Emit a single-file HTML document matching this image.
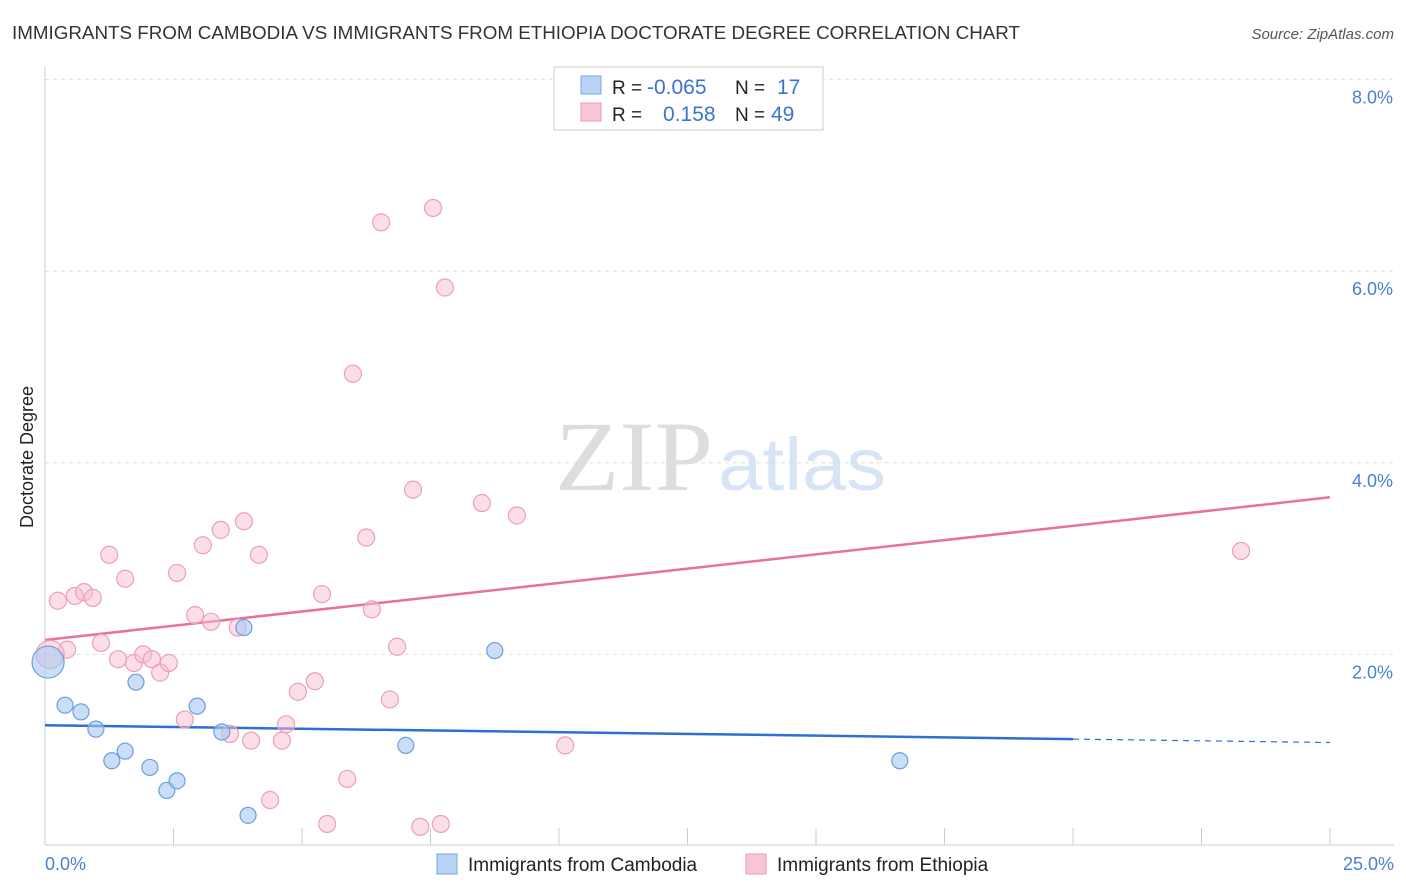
<!DOCTYPE html>
<html><head><meta charset="utf-8"><style>
body{margin:0;background:#fff;font-family:"Liberation Sans",sans-serif;}
svg{display:block}
</style></head><body>
<svg width="1406" height="892">
<text x="12" y="39" font-size="18" fill="#333" textLength="1008" lengthAdjust="spacingAndGlyphs">IMMIGRANTS FROM CAMBODIA VS IMMIGRANTS FROM ETHIOPIA DOCTORATE DEGREE CORRELATION CHART</text>
<text x="1394" y="39" font-size="15" fill="#555" text-anchor="end" font-style="italic">Source: ZipAtlas.com</text>
<g>
<text x="555" y="490" font-size="100" fill="#ddd" font-family="Liberation Serif,serif" textLength="158" lengthAdjust="spacingAndGlyphs">ZIP</text>
<text x="718" y="490" font-size="74" fill="#d6e4f5" textLength="168" lengthAdjust="spacingAndGlyphs">atlas</text>
</g>
<g id="grid"></g>
<g id="axes"></g>
<text transform="translate(33,457) rotate(-90)" font-size="18" fill="#222" text-anchor="middle">Doctorate Degree</text>
<text x="45" y="870" font-size="18" fill="#4a7fd4">0.0%</text>
<text x="1394" y="870" font-size="18" fill="#4a7fd4" text-anchor="end">25.0%</text>
<g id="lines"></g>
<g id="pts"></g>
<g>
<rect x="554" y="67" width="269" height="63" fill="#fff" stroke="#ccc"/>
<rect x="581" y="76" width="20" height="18" fill="#b8d3f5" stroke="#7aa6e0"/>
<rect x="581" y="103" width="20" height="18" fill="#f9c6d6" stroke="#eb9ab3"/>
<text x="612" y="94" font-size="19" fill="#222">R =</text>
<text x="647" y="94" font-size="21" fill="#3b73d1">-0.065</text>
<text x="735" y="94" font-size="19" fill="#222">N =</text>
<text x="777" y="94" font-size="21" fill="#3b73d1">17</text>
<text x="612" y="121" font-size="19" fill="#222">R =</text>
<text x="663" y="121" font-size="21" fill="#3b73d1">0.158</text>
<text x="735" y="121" font-size="19" fill="#222">N =</text>
<text x="771" y="121" font-size="21" fill="#3b73d1">49</text>
</g>
<g>
<rect x="437" y="854" width="20" height="20" fill="#b8d3f5" stroke="#7aa6e0"/>
<text x="468" y="871" font-size="19" fill="#222">Immigrants from Cambodia</text>
<rect x="746" y="854" width="20" height="20" fill="#f9c6d6" stroke="#eb9ab3"/>
<text x="777" y="871" font-size="19" fill="#222">Immigrants from Ethiopia</text>
</g>
</svg>
<script>
const yTicks=[2,4,6,8];
const yTickLabels=["2.0%","4.0%","6.0%","8.0%"];
const cambX=[0.06,0.39,0.7,0.99,1.3,1.56,1.77,2.04,2.37,2.57,2.96,3.44,3.87,3.95,7.02,8.75,16.63];
const cambY=[1.92,1.47,1.4,1.22,0.89,0.99,1.71,0.82,0.58,0.68,1.46,1.19,2.28,0.32,1.05,2.04,0.89];
const ethX=[0.25,0.43,0.58,0.76,0.93,1.09,1.25,1.42,1.56,1.73,1.91,2.08,2.24,2.41,2.57,2.72,2.92,3.07,3.23,3.42,3.6,3.75,3.87,4.01,4.16,4.38,4.61,4.69,4.92,5.25,5.39,5.49,5.88,5.99,6.25,6.36,6.54,6.71,6.85,7.16,7.3,7.55,7.7,7.78,8.5,9.18,10.12,23.27,0.1];
const ethY=[2.56,2.05,2.61,2.65,2.59,2.12,3.04,1.95,2.79,1.91,2.0,1.95,1.81,1.91,2.85,1.32,2.41,3.14,2.34,3.3,1.17,2.28,3.39,1.10,3.04,0.48,1.10,1.27,1.61,1.72,2.63,0.23,0.70,4.93,3.22,2.47,6.51,1.53,2.08,3.72,0.20,6.66,0.23,5.83,3.58,3.45,1.05,3.08,2.0];
const cambTrend=[1.26,1.08];
const ethTrend=[2.15,3.64];
const NS="http://www.w3.org/2000/svg";
const X=v=>45+v*51.4, Y=v=>846-v*95.8;
function mk(p,t,a){const e=document.createElementNS(NS,t);for(const k in a)e.setAttribute(k,a[k]);document.getElementById(p).appendChild(e);return e;}
yTicks.forEach((t,i)=>{
 const g=mk('grid','line',{x1:45,x2:1394,y1:Y(t),y2:Y(t),stroke:'#ddd','stroke-dasharray':'4,4'});
 
 
 const l=mk('grid','text',{x:1393,y:Y(t)+24,'font-size':18,fill:'#4a7fd4','text-anchor':'end'});
 l.textContent=yTickLabels[i];
 
 
});
const ax=mk('axes','line',{x1:45,x2:1394,y1:845,y2:845,stroke:'#ccc'});


const ay=mk('axes','line',{x1:45,x2:45,y1:66,y2:845,stroke:'#ccc'});


for(let i=0;i<=10;i++){const t=mk('axes','line',{x1:X(i*2.5),x2:X(i*2.5),y1:828,y2:845,stroke:'#ccc'});
 
 }
const b1=mk('lines','line',{x1:X(0),y1:Y(cambTrend[0]),x2:X(20),y2:Y(cambTrend[0]+(cambTrend[1]-cambTrend[0])*0.8),stroke:'#2d6fd6','stroke-width':2.5});


const b2=mk('lines','line',{x1:X(20),y1:Y(cambTrend[0]+(cambTrend[1]-cambTrend[0])*0.8),x2:X(25),y2:Y(cambTrend[1]),stroke:'#2d6fd6','stroke-width':1.2,'stroke-dasharray':'6,5'});


const p1=mk('lines','line',{x1:X(0),y1:Y(ethTrend[0]),x2:X(25),y2:Y(ethTrend[1]),stroke:'#e8719a','stroke-width':2.5});


ethX.forEach((x,i)=>{const c=mk('pts','circle',{cx:X(x),cy:Y(ethY[i]),r:i==48?14:8.5,fill:'rgba(249,190,208,0.5)',stroke:'#eba0b8','stroke-width':1.2});
 
 });
cambX.forEach((x,i)=>{const c=mk('pts','circle',{cx:X(x),cy:Y(cambY[i]),r:i==0?16:8,fill:'rgba(168,200,242,0.6)',stroke:'#6d9de0','stroke-width':1.2});
 
 });
</script>
</body></html>
